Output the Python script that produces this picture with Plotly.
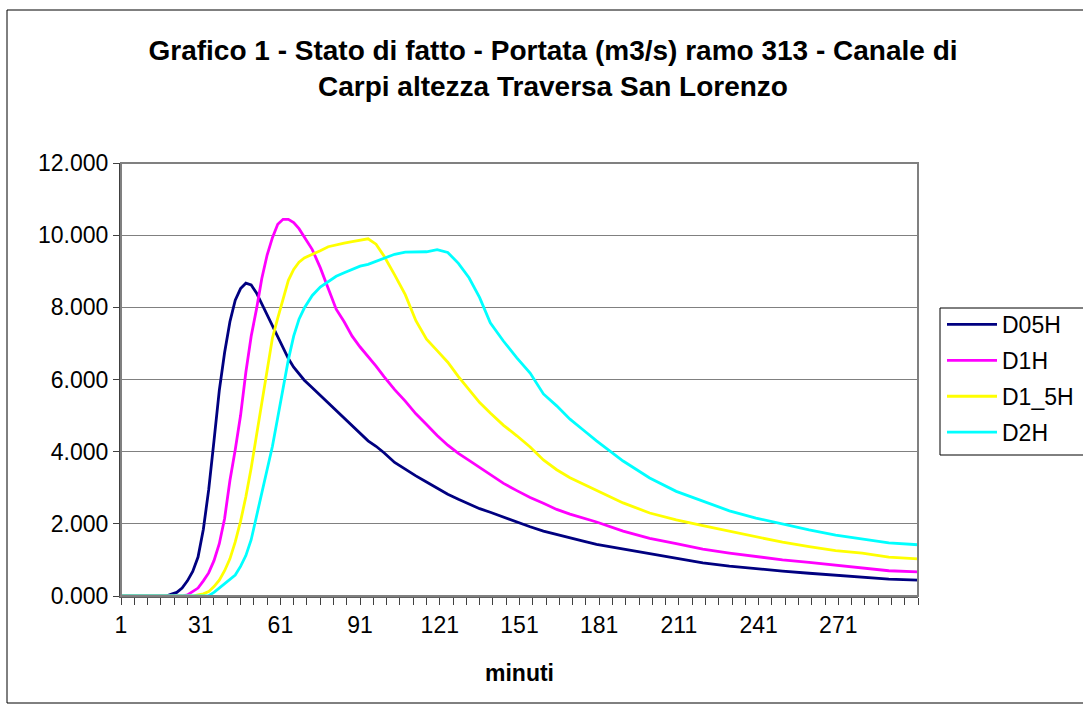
import plotly.graph_objects as go

# minutes (sampled from the chart)
minutes = [1, 10, 18, 20, 22, 24, 26, 28, 30, 32, 34, 36, 38, 40, 42, 44, 46, 48, 50,
           52, 54, 56, 58, 60, 62, 64, 66, 68, 70, 73, 76, 79, 82, 85, 88, 91, 94, 97,
           100, 104, 108, 112, 116, 120, 124, 128, 132, 136, 140, 145, 150, 155, 160,
           165, 170, 175, 180, 190, 200, 210, 220, 230, 240, 250, 260, 270, 280, 290, 301]

d05h = [0, 0, 0, 0.05, 0.10, 0.22, 0.42, 0.68, 1.08, 1.85, 2.94, 4.3, 5.7, 6.75, 7.6, 8.2,
        8.52, 8.67, 8.62, 8.4, 8.1, 7.8, 7.5, 7.2, 6.9, 6.58, 6.34, 6.15, 5.98, 5.77, 5.56,
        5.35, 5.15, 4.95, 4.74, 4.52, 4.30, 4.15, 3.97, 3.70, 3.51, 3.33, 3.16, 2.99, 2.82,
        2.68, 2.55, 2.42, 2.32, 2.18, 2.05, 1.92, 1.80, 1.70, 1.60, 1.52, 1.43, 1.30, 1.17,
        1.05, 0.92, 0.83, 0.75, 0.69, 0.63, 0.57, 0.52, 0.47, 0.44]

d1h = [0, 0, 0, 0, 0, 0, 0.03, 0.12, 0.22, 0.42, 0.64, 0.98, 1.45, 2.15, 3.2, 4.05, 5.0,
       6.2, 7.2, 7.95, 8.8, 9.45, 9.93, 10.3, 10.44, 10.44, 10.35, 10.18, 9.95, 9.6, 9.1,
       8.55, 7.95, 7.6, 7.2, 6.9, 6.65, 6.37, 6.08, 5.72, 5.4, 5.05, 4.75, 4.45, 4.18, 3.95,
       3.76, 3.56, 3.35, 3.12, 2.92, 2.73, 2.57, 2.40, 2.27, 2.17, 2.05, 1.80, 1.60, 1.45,
       1.30, 1.19, 1.09, 1.00, 0.93, 0.85, 0.76, 0.70, 0.67]

d1_5h = [0, 0, 0, 0, 0, 0, 0, 0, 0.03, 0.06, 0.12, 0.26, 0.44, 0.70, 1.03, 1.5, 2.07, 2.75,
         3.55, 4.45, 5.45, 6.35, 7.15, 7.7, 8.25, 8.75, 9.05, 9.25, 9.37, 9.46, 9.57, 9.68,
         9.74, 9.78, 9.82, 9.86, 9.9, 9.75, 9.42, 8.9, 8.35, 7.63, 7.12, 6.8, 6.48, 6.08,
         5.72, 5.36, 5.07, 4.73, 4.44, 4.13, 3.77, 3.50, 3.28, 3.11, 2.94, 2.58, 2.30, 2.11,
         1.95, 1.79, 1.63, 1.49, 1.37, 1.26, 1.19, 1.08, 1.03]

d2h = [0, 0, 0, 0, 0, 0, 0, 0, 0, 0, 0.01, 0.1, 0.22, 0.34, 0.45, 0.58, 0.82, 1.12, 1.56,
       2.22, 2.85, 3.52, 4.15, 4.95, 5.8, 6.55, 7.2, 7.67, 7.98, 8.33, 8.56, 8.72, 8.86,
       8.96, 9.06, 9.14, 9.19, 9.27, 9.35, 9.47, 9.53, 9.54, 9.54, 9.6, 9.52, 9.22, 8.82,
       8.27, 7.57, 7.06, 6.6, 6.18, 5.6, 5.27, 4.9, 4.6, 4.3, 3.74, 3.27, 2.9, 2.62, 2.36,
       2.16, 1.99, 1.83, 1.69, 1.58, 1.47, 1.42]

series_names = ["D05H", "D1H", "D1_5H", "D2H"]
series_vals = [d05h, d1h, d1_5h, d2h]
series_colors = ["#000080", "#FF00FF", "#FFFF00", "#00FFFF"]

x_ticks = [1, 31, 61, 91, 121, 151, 181, 211, 241, 271]
y_ticks = [0, 2, 4, 6, 8, 10, 12]
y_ticktext = ["0.000", "2.000", "4.000", "6.000", "8.000", "10.000", "12.000"]

title_text = ("Grafico 1 - Stato di fatto - Portata (m3/s) ramo 313 - Canale di<br>"
              "Carpi altezza Traversa San Lorenzo")

FONT = "Liberation Sans, Arial, sans-serif"

fig = go.Figure()
for name, vals, col in zip(series_names, series_vals, series_colors):
    fig.add_trace(go.Scatter(x=minutes, y=vals, mode="lines", name=name,
                             legendgroup=name,
                             line=dict(color=col, width=2.8)))

# pixel geometry
L, R, T, B = 121, 918, 163, 596
W, H = 1083, 711
pw, ph = R - L, B - T

def px(xp):
    return (xp - L) / pw

def py(yp):
    return (B - yp) / ph

fig.update_layout(
    width=W, height=H,
    margin=dict(l=L, r=W - R, t=T, b=H - B, autoexpand=False),
    paper_bgcolor="white", plot_bgcolor="white",
    font=dict(family=FONT, size=23, color="black"),
    title=dict(text=title_text, x=553 / W, xanchor="center", xref="container",
               y=1 - 69 / H, yanchor="middle", yref="container",
               font=dict(family=FONT, size=28, color="black", weight="bold")),
    showlegend=True,
    legend=dict(x=px(942), y=py(303), xanchor="left", yanchor="top",
                bgcolor="rgba(0,0,0,0)", borderwidth=0,
                font=dict(family=FONT, size=23, color="black"),
                tracegroupgap=3, traceorder="grouped", itemwidth=50),
    xaxis=dict(range=[1, 301], tickmode="array", tickvals=x_ticks,
               ticktext=[str(v) for v in x_ticks],
               ticks="outside", ticklen=7, tickcolor="#404040", tickwidth=1,
               minor=dict(tick0=1, dtick=5, ticks="outside", ticklen=7,
                          tickcolor="#404040", tickwidth=1, showgrid=False),
               showgrid=False, zeroline=False,
               showline=True, linecolor="#606060", linewidth=2,
               tickfont=dict(family=FONT, size=23, color="black"),
               title=dict(text="<b>minuti</b>", standoff=28,
                          font=dict(family=FONT, size=23, color="black"))),
    yaxis=dict(range=[0, 12], tickmode="array", tickvals=y_ticks, ticktext=y_ticktext,
               ticks="outside", ticklen=6, tickcolor="#404040", tickwidth=1,
               showgrid=True, gridcolor="#808080", gridwidth=1,
               zeroline=False, showline=True, linecolor="#404040", linewidth=2,
               tickfont=dict(family=FONT, size=23, color="black")),
    shapes=[
        # plot area border (top / right)
        dict(type="rect", xref="paper", yref="paper", x0=0, y0=0, x1=1, y1=1,
             line=dict(color="#808080", width=2), layer="above"),
        # outer chart border
        dict(type="rect", xref="paper", yref="paper",
             x0=px(7), x1=px(1090), y0=py(703), y1=py(10),
             line=dict(color="black", width=1)),
        # legend box
        dict(type="rect", xref="paper", yref="paper",
             x0=px(940), x1=px(1090), y0=py(455), y1=py(308),
             line=dict(color="black", width=1)),
    ],
)

fig.update_layout(title_y=1 - 60 / H)

fig.write_html("out.html",
               config={"displayModeBar": False},
               post_script="document.body.style.margin='0px';document.body.style.overflow='hidden';")
